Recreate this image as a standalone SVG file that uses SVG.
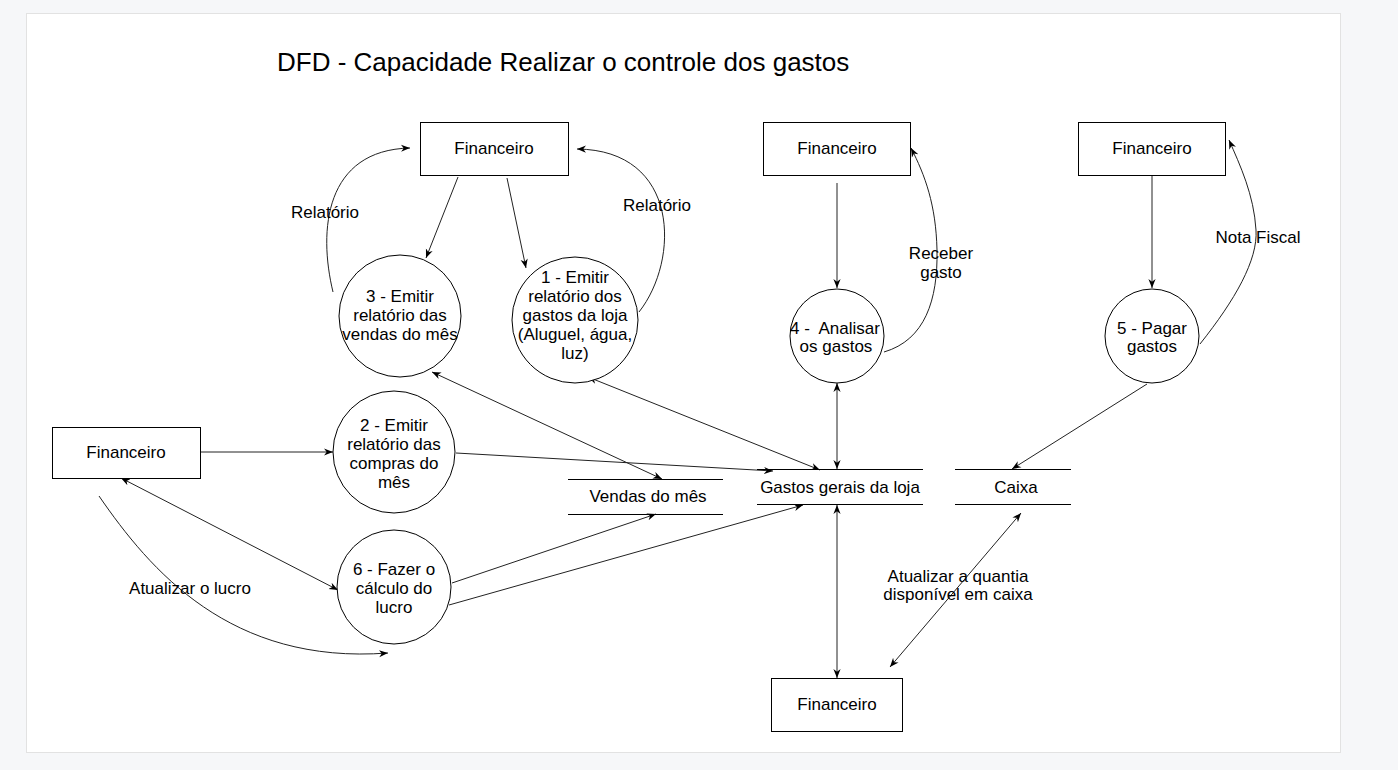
<svg xmlns="http://www.w3.org/2000/svg" width="1398" height="770" viewBox="0 0 1398 770">
<style>
text{font-family:"Liberation Sans",Arial,sans-serif;font-size:17px;fill:#000;text-anchor:middle}
.title{font-size:26px;text-anchor:start}
.box{fill:#fff;stroke:#000;stroke-width:1}
.proc{fill:#fff;stroke:#000;stroke-width:1}
.store{stroke:#000;stroke-width:1;fill:none}
.c{fill:none;stroke:#222;stroke-width:1}
.e{marker-end:url(#ah)}
.b{marker-start:url(#ah);marker-end:url(#ah)}
</style>
<defs>
<marker id="ah" viewBox="0 0 10 10" refX="10" refY="5" markerWidth="9" markerHeight="9" markerUnits="userSpaceOnUse" orient="auto-start-reverse">
<path d="M0,1 L10,5 L0,9 L3,5 z" fill="#000"/>
</marker>
</defs>
<rect x="0" y="0" width="1398" height="770" fill="#f6f7f9"/>
<rect x="26.5" y="13.5" width="1314" height="739" fill="#fff" stroke="#e2e2e2"/>
<text class="title" x="277" y="71">DFD - Capacidade Realizar o controle dos gastos</text>

<g id="connectors">
<path class="c e" d="M458,177 L426,258"/>
<path class="c e" d="M507,178 L526,268"/>
<path class="c e" d="M333,292 C318,230 325,150 410,148"/>
<path class="c e" d="M639,312 C680,260 680,150 577,149"/>
<path class="c e" d="M837,183 L837,288"/>
<path class="c e" d="M884,352 C925,340 938,300 937,250 C936,205 925,175 911,148"/>
<path class="c e" d="M1152,176 L1152,288"/>
<path class="c e" d="M1200,344 C1235,300 1258,260 1256,230 C1254,195 1240,165 1229,140"/>
<path class="c e" d="M200,452 L333,452"/>
<path class="c e" d="M456,453 L773,471"/>
<path class="c b" d="M432,372 L662,479"/>
<path class="c b" d="M588,377 L820,470"/>
<path class="c b" d="M837,383 L837,469"/>
<path class="c e" d="M1147,384 L1012,469"/>
<path class="c b" d="M121,478 L338,590"/>
<path class="c e" d="M99,496 C150,570 230,665 388,653"/>
<path class="c e" d="M452,583 L656,514"/>
<path class="c e" d="M449,605 L803,505"/>
<path class="c b" d="M837,505 L837,678"/>
<path class="c b" d="M1021,513 L890,667"/>
<text x="325" y="218">Relatório</text>
<text x="657" y="211">Relatório</text>
<text x="941" y="259">Receber</text>
<text x="941" y="278">gasto</text>
<text x="1258" y="243">Nota Fiscal</text>
<text x="190" y="594">Atualizar o lucro</text>
<text x="958" y="582">Atualizar a quantia</text>
<text x="958" y="600">disponível em caixa</text>
</g>

<g id="fin1"><rect class="box" x="420.5" y="122.5" width="148" height="53"/><text x="494" y="154">Financeiro</text></g>
<g id="fin2"><rect class="box" x="763.5" y="122.5" width="147" height="53"/><text x="837" y="154">Financeiro</text></g>
<g id="fin3"><rect class="box" x="1078.5" y="122.5" width="147" height="53"/><text x="1152" y="154">Financeiro</text></g>
<g id="fin4"><rect class="box" x="52.5" y="427.5" width="148" height="51"/><text x="126" y="458">Financeiro</text></g>
<g id="fin5"><rect class="box" x="771.5" y="678.5" width="131" height="53"/><text x="837" y="710">Financeiro</text></g>

<g id="p3"><circle class="proc" cx="400" cy="316" r="61"/>
<text x="400" y="302">3 - Emitir</text><text x="400" y="321">relatório das</text><text x="400" y="340">vendas do mês</text></g>
<g id="p1"><circle class="proc" cx="575" cy="320" r="63"/>
<text x="575" y="283">1 - Emitir</text><text x="575" y="302">relatório dos</text><text x="575" y="321">gastos da loja</text><text x="575" y="340">(Aluguel, água,</text><text x="575" y="359">luz)</text></g>
<g id="p4"><circle class="proc" cx="837" cy="336" r="47"/>
<text x="835" y="334" xml:space="preserve">4 -  Analisar</text><text x="836" y="352">os gastos</text></g>
<g id="p5"><circle class="proc" cx="1152" cy="336" r="47"/>
<text x="1152" y="334">5 - Pagar</text><text x="1152" y="352">gastos</text></g>
<g id="p2"><circle class="proc" cx="394" cy="452" r="61"/>
<text x="394" y="431">2 - Emitir</text><text x="394" y="450">relatório das</text><text x="394" y="469">compras do</text><text x="394" y="488">mês</text></g>
<g id="p6"><circle class="proc" cx="394" cy="587" r="57"/>
<text x="394" y="575">6 - Fazer o</text><text x="394" y="594">cálculo do</text><text x="394" y="613">lucro</text></g>

<g id="s_vendas"><path class="store" d="M568,479.5 H723 M568,514.5 H723"/><text x="648" y="502">Vendas do mês</text></g>
<g id="s_gastos"><path class="store" d="M757,469.5 H923 M757,504.5 H923"/><text x="840" y="493">Gastos gerais da loja</text></g>
<g id="s_caixa"><path class="store" d="M955,469.5 H1071 M955,504.5 H1071"/><text x="1016" y="493">Caixa</text></g>
</svg>
